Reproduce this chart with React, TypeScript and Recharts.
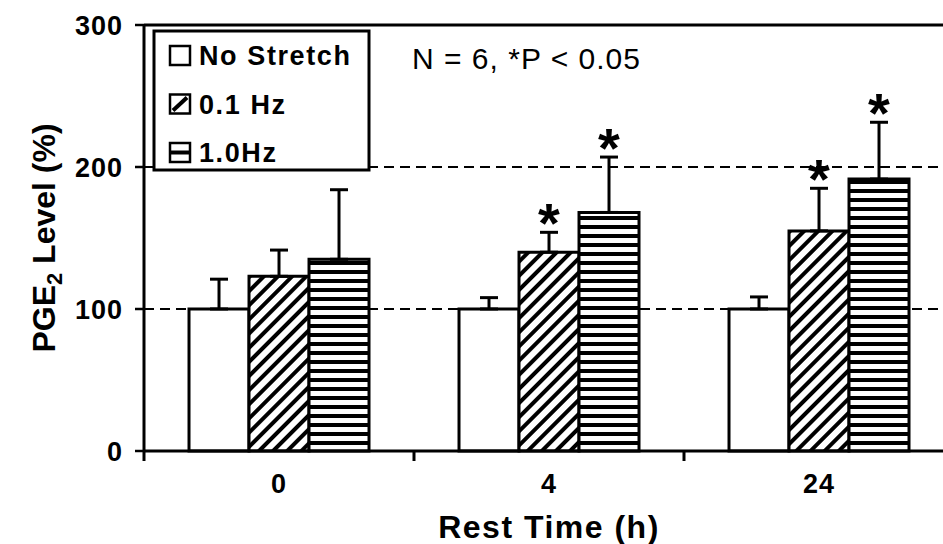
import { Bar, BarChart, CartesianGrid, ErrorBar, LabelList, ReferenceLine, XAxis, YAxis } from "recharts";

// PGE2 release after stretch, % of unstretched control (mean + SD)
const restTimes = ["0", "4", "24"];
const noStretch = [100, 100, 100];
const noStretchSd = [21, 8, 8.5];
const stretch01 = [123, 140, 155];
const stretch01Sd = [18.5, 14, 30];
const stretch10 = [135, 168, 191.5];
const stretch10Sd = [49, 39, 40];
const noStretchSig = [false, false, false];
const stretch01Sig = [false, true, true];
const stretch10Sig = [false, true, true];
const yTicks = [0, 100, 200, 300];
const guideLevels = [100, 200];

const font = "'Liberation Sans', Arial, sans-serif";

const series = [
  { key: "noStretch", name: "No Stretch", fill: "#ffffff", swatch: "plain", values: noStretch, sd: noStretchSd, sig: noStretchSig },
  { key: "hz01", name: "0.1 Hz", fill: "url(#diagHatch)", swatch: "diag", values: stretch01, sd: stretch01Sd, sig: stretch01Sig },
  { key: "hz10", name: "1.0Hz", fill: "url(#stripeHatch)", swatch: "stripe", values: stretch10, sd: stretch10Sd, sig: stretch10Sig },
];

const data = restTimes.map((time, i) => {
  const row: Record<string, any> = { time };
  series.forEach((s) => {
    row[s.key] = s.values[i];
    row[s.key + "Err"] = [0, s.sd[i]];
  });
  return row;
});

const TimeTick = (props: any) => {
  const { x, y, payload } = props;
  const half = payload.offset ?? 0;
  return (
    <g>
      <line x1={x - half} x2={x - half} y1={y} y2={y + 10} stroke="#000" strokeWidth={3} />
      <text x={x} y={y + 42} textAnchor="middle" fontFamily={font} fontWeight="bold" fontSize={27} letterSpacing={1} fill="#000">
        {payload.value}
      </text>
    </g>
  );
};

const starLabel = (s: (typeof series)[number]) => (props: any) => {
  const { x, y, width, height, index } = props;
  if (!s.sig[index]) return null;
  const perUnit = height / s.values[index];
  const capY = y - s.sd[index] * perUnit;
  return (
    <text x={x + width / 2} y={capY + 10} textAnchor="middle" fontFamily={font} fontWeight="bold" fontSize={56} fill="#000">
      *
    </text>
  );
};

const Swatch = ({ kind, x, y }: { kind: string; x: number; y: number }) => (
  <g>
    <rect x={x} y={y} width={20} height={19} fill="#fff" stroke="#000" strokeWidth={2.5} />
    {kind === "diag" && <line x1={x + 3} y1={y + 16} x2={x + 17} y2={y + 3} stroke="#000" strokeWidth={4} />}
    {kind === "stripe" && <line x1={x} y1={y + 9.5} x2={x + 20} y2={y + 9.5} stroke="#000" strokeWidth={4} />}
  </g>
);

export default function App() {
  return (
    <div style={{ position: "absolute", left: 0, top: 0, width: 943, height: 544, overflow: "hidden", background: "#fff" }}>
      <BarChart
        width={960}
        height={544}
        data={data}
        margin={{ top: 25, right: 6, left: 0, bottom: 0 }}
        barCategoryGap="16.67%"
        barGap={0}
      >
        <defs>
          <pattern id="diagHatch" width={10} height={10} patternUnits="userSpaceOnUse" patternTransform="rotate(45)">
            <rect width={10} height={10} fill="#fff" />
            <rect x={0} y={0} width={4} height={10} fill="#000" />
          </pattern>
          <pattern id="stripeHatch" width={10} height={9} patternUnits="userSpaceOnUse">
            <rect width={10} height={9} fill="#fff" />
            <rect x={0} y={0} width={10} height={4} fill="#000" />
          </pattern>
        </defs>
        <CartesianGrid vertical={false} horizontalValues={guideLevels} stroke="#000" strokeWidth={2} strokeDasharray="10 6" />
        <ReferenceLine y={300} stroke="#000" strokeWidth={3} />
        <XAxis
          dataKey="time"
          height={93}
          axisLine={{ stroke: "#000", strokeWidth: 3 }}
          tickLine={false}
          tickSize={0}
          tickMargin={0}
          tick={<TimeTick />}
          interval={0}
          label={{
            content: ({ viewBox }: any) => (
              <text x={viewBox.x + viewBox.width / 2} y={538} textAnchor="middle" fontFamily={font} fontWeight="bold" fontSize={32} letterSpacing={1.5} fill="#000">
                Rest Time (h)
              </text>
            ),
          }}
        />
        <YAxis
          width={144}
          domain={[0, 300]}
          ticks={yTicks}
          interval={0}
          axisLine={{ stroke: "#000", strokeWidth: 3 }}
          tickLine={{ stroke: "#000", strokeWidth: 2.5 }}
          tickSize={9}
          tickMargin={12}
          tick={{ fill: "#000", fontFamily: font, fontWeight: "bold", fontSize: 27, letterSpacing: 1 }}
          label={{
            content: ({ viewBox }: any) => (
              <text
                transform={`translate(55, ${viewBox.y + viewBox.height / 2}) rotate(-90)`}
                textAnchor="middle"
                fontFamily={font}
                fontWeight="bold"
                fontSize={32}
                fill="#000"
              >
                PGE<tspan fontSize={22} dy={7}>2</tspan>
                <tspan dy={-7}> Level (%)</tspan>
              </text>
            ),
          }}
        />
        {series.map((s) => (
          <Bar key={s.key} dataKey={s.key} name={s.name} fill={s.fill} stroke="#000" strokeWidth={3} isAnimationActive={false}>
            <ErrorBar dataKey={s.key + "Err"} direction="y" width={9} stroke="#000" strokeWidth={3} />
            <LabelList dataKey={s.key} content={starLabel(s)} />
          </Bar>
        ))}
      </BarChart>
      <svg width={943} height={544} style={{ position: "absolute", left: 0, top: 0, pointerEvents: "none" }}>
        <rect x={154} y={31} width={215} height={139} fill="#fff" stroke="#000" strokeWidth={3} />
        {series.map((s, i) => (
          <g key={s.key}>
            <Swatch kind={s.swatch} x={170} y={46 + i * 48.5} />
            <text x={199} y={65 + i * 48.5} fontFamily={font} fontWeight="bold" fontSize={27} letterSpacing={1.6} fill="#000">
              {s.name}
            </text>
          </g>
        ))}
        <text x={412} y={69} fontFamily={font} fontSize={30} letterSpacing={1} fill="#000">
          N = 6, *P &lt; 0.05
        </text>
      </svg>
    </div>
  );
}
